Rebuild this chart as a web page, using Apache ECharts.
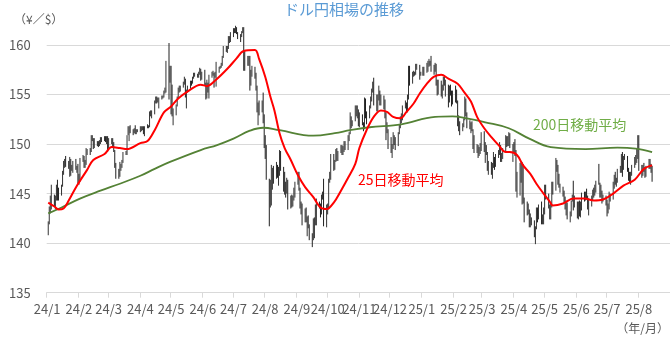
<!DOCTYPE html>
<html><head><meta charset="utf-8">
<script src="https://cdn.jsdelivr.net/npm/echarts@6/dist/echarts.min.js"></script>
<style>html,body{margin:0;padding:0;background:#fff}#c{width:670px;height:339px}</style>
</head><body><div id="c"></div>
<script>
const chartTitle = 'ドル円相場の推移';
const yUnit = '（¥／$）';
const xUnit = '（年/月）';
const ma25Label = '25日移動平均';
const ma200Label = '200日移動平均';
const yMin = 135, yMax = 162, yStep = 5;

// daily [open, close, low, high] per month (weekdays in order)
const jan24 = [[141.0,141.98,140.8,142.2],[142.0,143.3,141.9,143.7],[143.3,144.6,143.0,144.8],[144.6,144.6,143.4,145.9],[144.6,144.2,143.7,144.9],[144.2,144.5,143.4,144.8],[144.5,145.7,144.3,145.9],[145.7,145.3,144.3,146.4],[145.3,144.9,144.3,145.6],[144.9,145.8,144.8,145.9],[145.8,147.2,145.7,147.3],[147.2,148.1,146.9,148.3],[148.1,148.2,147.6,148.5],[148.2,148.1,147.7,148.8],[148.1,148.1,147.5,148.3],[148.1,148.4,146.7,148.7],[148.4,147.5,146.8,148.5],[147.5,147.6,147.3,147.9],[147.6,148.1,147.1,148.3],[148.1,147.5,147.4,148.5],[147.5,147.6,147.1,147.8],[147.6,146.9,146.0,148.0]];
const feb24 = [[146.9,146.4,145.9,147.0],[146.4,148.4,146.2,148.6],[148.4,148.7,148.2,148.9],[148.7,147.9,147.6,148.8],[147.9,148.2,147.6,148.4],[148.2,149.3,147.9,149.6],[149.3,149.3,148.9,149.5],[149.3,149.3,148.9,149.6],[149.3,150.7,149.2,150.9],[150.7,150.6,150.3,150.9],[150.6,149.9,149.5,150.6],[149.9,150.2,149.6,150.6],[150.2,150.1,149.8,150.3],[150.1,150.0,149.7,150.3],[150.0,150.3,149.8,150.4],[150.3,150.5,150.0,150.7],[150.5,150.5,150.2,150.7],[150.5,150.7,150.3,150.8],[150.7,150.5,150.2,150.8],[150.5,150.7,150.0,150.8],[150.7,150.0,149.2,150.8]];
const mar24 = [[150.0,150.1,149.6,150.6],[150.1,150.5,150.0,150.6],[150.5,150.0,149.7,150.6],[150.0,149.4,149.2,150.2],[149.4,148.0,147.6,149.4],[148.0,147.0,146.5,148.1],[147.0,146.9,146.5,147.5],[146.9,147.6,146.7,148.2],[147.6,147.8,147.3,148.0],[147.8,148.3,147.6,148.4],[148.3,149.0,148.1,149.2],[149.0,149.1,148.9,149.3],[149.1,150.9,148.9,150.9],[150.9,151.3,150.9,151.8],[151.3,151.6,150.3,151.8],[151.6,151.4,151.1,151.9],[151.4,151.4,150.9,151.5],[151.4,151.5,151.1,151.6],[151.5,151.3,151.0,151.9],[151.3,151.4,151.0,151.5],[151.4,151.3,151.2,151.5]];
const apr24 = [[151.3,151.6,151.2,151.8],[151.6,151.6,151.3,151.8],[151.6,151.7,151.4,151.8],[151.7,151.3,151.0,151.8],[151.3,151.6,150.8,151.8],[151.6,151.8,151.6,152.0],[151.8,151.8,151.6,151.9],[151.8,153.2,151.7,153.3],[153.2,153.3,152.8,153.4],[153.3,153.3,152.6,153.4],[153.3,154.2,153.0,154.4],[154.2,154.7,154.1,154.8],[154.7,154.4,154.1,154.8],[154.4,154.6,154.2,154.7],[154.6,154.6,153.6,154.7],[154.6,154.8,154.5,154.9],[154.8,154.8,154.6,154.9],[154.8,155.3,154.7,155.4],[155.3,155.6,155.1,155.7],[155.6,158.3,155.2,158.4],[158.3,156.4,154.5,160.2],[156.4,157.8,156.2,157.9]];
const may24 = [[157.8,155.3,153.0,157.9],[155.3,153.0,152.8,156.0],[153.0,153.0,151.9,153.6],[153.0,153.9,152.9,154.0],[153.9,154.7,153.8,154.8],[154.7,155.5,154.6,155.7],[155.5,155.5,155.2,155.9],[155.5,155.8,155.3,155.9],[155.8,156.2,155.7,156.3],[156.2,156.4,156.0,156.8],[156.4,154.9,154.7,156.6],[154.9,155.4,153.6,155.5],[155.4,155.7,155.2,155.9],[155.7,156.3,155.6,156.4],[156.3,156.2,155.9,156.4],[156.2,156.8,156.1,156.8],[156.8,157.0,156.6,157.2],[157.0,157.0,156.8,157.2],[157.0,156.9,156.7,157.1],[156.9,157.2,156.7,157.3],[157.2,157.6,157.0,157.7],[157.6,156.8,156.4,157.6],[156.8,157.3,156.5,157.3]];
const jun24 = [[157.3,156.1,155.9,157.5],[156.1,154.8,154.5,156.2],[154.8,156.1,154.6,156.5],[156.1,155.6,155.2,156.2],[155.6,156.8,154.6,157.0],[156.8,157.0,156.7,157.3],[157.0,157.1,156.9,157.4],[157.1,156.7,155.7,157.2],[156.7,157.1,156.7,157.3],[157.1,157.4,155.8,158.3],[157.4,157.7,157.2,157.8],[157.7,157.8,157.6,157.9],[157.8,158.1,157.7,158.2],[158.1,158.9,157.9,158.9],[158.9,159.8,158.7,159.9],[159.8,159.7,159.3,159.9],[159.7,159.7,159.2,159.9],[159.7,160.8,159.6,160.9],[160.8,160.8,160.2,160.9],[160.8,160.9,160.3,161.3]];
const jul24 = [[160.9,161.5,160.8,161.7],[161.5,161.5,161.2,161.7],[161.5,161.7,161.2,161.95],[161.7,161.2,161.1,161.8],[161.2,160.8,160.6,161.3],[160.8,160.8,160.3,161.1],[160.8,161.3,160.8,161.4],[161.3,161.7,161.2,161.8],[161.7,158.9,157.4,161.8],[158.9,157.9,157.4,159.5],[157.9,158.1,157.9,158.9],[158.1,158.4,157.9,158.9],[158.4,156.2,155.4,158.9],[156.2,157.4,155.9,157.5],[157.4,157.5,156.8,157.9],[157.5,157.0,156.6,157.8],[157.0,155.6,155.4,157.2],[155.6,153.9,153.2,155.9],[153.9,154.0,151.9,154.2],[154.0,153.8,152.9,154.4],[153.8,154.0,153.2,154.4],[154.0,153.0,152.1,155.2],[153.0,149.9,149.6,153.0]];
const aug24 = [[149.9,149.4,148.5,150.9],[149.4,146.5,146.4,149.9],[146.5,144.2,141.7,146.5],[144.2,144.3,143.6,146.4],[144.3,146.8,143.8,147.9],[146.8,147.2,145.4,147.6],[147.2,146.6,146.0,147.8],[146.6,147.2,146.5,148.2],[147.2,146.8,146.6,147.9],[146.8,147.3,145.8,147.7],[147.3,149.3,146.8,149.4],[149.3,147.6,147.3,149.3],[147.6,146.6,145.2,147.7],[146.6,145.3,144.9,147.2],[145.3,145.2,144.6,146.2],[145.2,146.3,145.0,146.6],[146.3,144.4,143.4,146.4],[144.4,144.5,143.5,144.8],[144.5,143.9,143.6,144.9],[143.9,144.6,143.7,144.8],[144.6,145.0,144.3,145.6],[145.0,146.2,144.6,146.2]];
const sep24 = [[146.2,147.0,145.9,147.2],[147.0,145.5,145.3,147.2],[145.5,143.8,143.5,145.6],[143.8,143.4,142.9,144.2],[143.4,142.3,141.8,144.0],[142.3,143.2,142.1,143.5],[143.2,142.4,142.1,143.6],[142.4,142.4,140.7,142.7],[142.4,141.8,141.5,142.8],[141.8,140.9,140.3,141.9],[140.9,140.6,139.6,141.0],[140.6,142.4,140.3,142.5],[142.4,142.3,140.5,142.6],[142.3,142.6,141.8,143.9],[142.6,143.9,141.8,144.5],[143.9,143.6,143.5,144.2],[143.6,143.2,142.6,144.0],[143.2,144.8,142.9,144.9],[144.8,144.8,144.4,145.2],[144.8,142.2,141.7,146.5],[142.2,143.6,141.6,143.9]];
const oct24 = [[143.6,143.6,142.9,144.0],[143.6,146.4,143.4,146.5],[146.4,146.9,146.1,147.2],[146.9,148.7,146.4,149.0],[148.7,148.1,147.3,149.0],[148.1,148.2,147.4,148.4],[148.2,149.3,148.2,149.5],[149.3,148.6,148.3,149.6],[148.6,149.1,148.3,149.3],[149.1,149.8,149.1,149.9],[149.8,149.2,148.9,149.9],[149.2,149.6,148.9,149.8],[149.6,150.1,149.2,150.3],[150.1,149.5,149.4,150.3],[149.5,150.8,149.4,150.9],[150.8,151.1,150.3,151.2],[151.1,152.7,151.0,153.2],[152.7,151.8,151.6,152.8],[151.8,152.3,151.8,152.4],[152.3,153.3,152.3,153.9],[153.3,153.4,152.8,153.9],[153.4,153.4,152.6,153.9],[153.4,152.0,151.8,153.5]];
const nov24 = [[152.0,153.0,151.7,153.2],[153.0,152.2,151.9,153.0],[152.2,151.6,151.3,152.2],[151.6,154.6,151.5,154.7],[154.6,152.9,152.6,154.6],[152.9,152.6,152.0,153.3],[152.6,153.7,152.6,153.9],[153.7,154.6,153.6,154.8],[154.6,155.4,154.3,155.6],[155.4,156.2,155.2,156.3],[156.2,154.3,153.9,156.7],[154.3,154.6,153.3,155.0],[154.6,154.6,153.3,155.0],[154.6,155.4,154.4,155.9],[155.4,154.5,153.9,155.4],[154.5,154.8,153.9,155.0],[154.8,154.2,153.5,154.9],[154.2,153.0,152.6,154.5],[153.0,151.1,150.4,153.2],[151.1,151.5,151.1,152.2],[151.5,149.8,149.5,151.5]];
const dec24 = [[149.8,149.6,149.1,150.7],[149.6,149.6,148.6,150.0],[149.6,150.6,149.5,151.2],[150.6,150.1,149.9,150.9],[150.1,150.0,149.4,150.7],[150.0,151.2,149.8,151.2],[151.2,151.9,151.0,152.0],[151.9,152.4,151.6,152.8],[152.4,152.6,152.1,153.1],[152.6,153.6,152.4,153.9],[153.6,154.1,153.6,154.4],[154.1,153.5,153.2,154.2],[153.5,154.7,153.2,155.0],[154.7,157.4,154.5,157.9],[157.4,156.4,155.9,157.9],[156.4,157.1,156.1,157.3],[157.1,157.2,156.8,157.4],[157.2,157.1,156.9,157.3],[157.1,157.9,157.0,158.1],[157.9,157.9,157.5,158.1],[157.9,156.9,156.5,158.0],[156.9,157.2,156.9,157.3]];
const jan25 = [[157.2,157.4,156.9,157.8],[157.4,157.3,156.9,157.8],[157.3,157.6,157.2,158.2],[157.6,158.0,157.3,158.4],[158.0,158.3,157.8,158.6],[158.3,158.2,157.9,158.4],[158.2,157.7,157.3,158.9],[157.7,157.5,157.0,158.0],[157.5,158.0,157.3,158.2],[158.0,156.5,155.9,158.1],[156.5,155.2,154.9,156.5],[155.2,156.3,155.0,156.5],[156.3,155.6,154.8,156.4],[155.6,155.6,154.6,156.0],[155.6,156.6,155.4,156.8],[156.6,156.0,155.9,156.8],[156.0,156.0,154.8,156.5],[156.0,154.6,153.7,156.0],[154.6,155.5,154.2,155.9],[155.5,155.2,154.9,156.0],[155.2,154.3,153.8,155.4],[154.3,155.2,154.0,155.4]];
const feb25 = [[155.2,154.7,154.2,155.9],[154.7,154.3,154.1,155.5],[154.3,152.6,151.8,154.4],[152.6,152.0,151.3,152.9],[152.0,151.4,150.9,152.3],[151.4,152.0,151.3,152.1],[152.0,152.5,151.7,152.6],[152.5,154.4,152.4,154.8],[154.4,153.0,152.8,154.6],[153.0,152.1,151.6,153.2],[152.1,151.8,151.5,152.4],[151.8,152.0,151.1,152.2],[152.0,151.4,151.3,152.3],[151.4,149.6,149.5,151.5],[149.6,149.2,149.1,150.9],[149.2,149.6,149.1,150.0],[149.6,149.0,148.6,149.9],[149.0,149.1,148.8,149.7],[149.1,149.8,149.0,150.1],[149.8,150.6,149.3,151.2]];
const mar25 = [[150.6,149.5,149.2,151.3],[149.5,149.8,148.1,150.2],[149.8,149.0,148.9,149.9],[149.0,148.0,147.3,149.2],[148.0,148.0,146.9,148.3],[148.0,147.3,146.9,148.2],[147.3,147.8,146.5,148.1],[147.8,148.6,147.6,149.2],[148.6,147.8,147.4,148.7],[147.8,148.6,147.7,149.0],[148.6,149.2,148.6,149.4],[149.2,149.3,148.9,150.2],[149.3,148.7,148.2,149.9],[148.7,148.8,148.2,149.1],[148.8,149.3,148.5,149.6],[149.3,150.7,149.3,150.9],[150.7,149.9,149.7,150.8],[149.9,150.6,149.8,150.8],[150.6,151.0,149.8,151.2],[151.0,149.8,149.6,151.1],[149.8,149.9,148.2,150.0]];
const apr25 = [[149.9,149.6,149.1,150.2],[149.6,149.3,148.8,150.5],[149.3,146.1,145.2,149.4],[146.1,146.9,144.6,147.2],[146.9,147.8,144.8,148.1],[147.8,146.2,146.1,148.3],[146.2,147.8,143.9,148.2],[147.8,144.5,144.0,148.0],[144.5,143.5,142.1,144.6],[143.5,143.1,142.8,144.2],[143.1,143.2,142.9,144.0],[143.2,141.7,141.6,143.4],[141.7,142.5,141.6,143.0],[142.5,142.2,141.8,142.6],[142.2,140.9,140.6,142.3],[140.9,141.5,139.9,141.7],[141.5,143.4,141.4,143.6],[143.4,142.6,142.1,143.6],[142.6,143.6,142.4,143.9],[143.6,142.0,141.9,144.2],[142.0,142.3,141.9,142.9],[142.3,143.1,141.9,143.6]];
const may25 = [[143.1,145.4,142.9,145.9],[145.4,144.9,144.4,145.9],[144.9,143.7,143.5,145.0],[143.7,142.4,142.4,143.9],[142.4,143.9,142.4,144.1],[143.9,145.9,143.6,146.2],[145.9,145.4,144.9,146.2],[145.4,148.4,145.3,148.6],[148.4,147.5,147.2,148.4],[147.5,146.7,145.9,147.9],[146.7,145.7,145.6,147.0],[145.7,145.7,145.1,146.0],[145.7,144.9,144.7,145.7],[144.9,144.5,144.1,145.3],[144.5,143.7,143.4,144.7],[143.7,144.0,142.8,144.3],[144.0,142.6,142.4,144.1],[142.6,142.8,142.1,143.2],[142.8,144.3,142.7,144.3],[144.3,144.8,144.2,144.9],[144.8,144.1,143.3,146.3],[144.1,144.0,143.6,144.8]];
const jun25 = [[144.0,142.7,142.5,144.2],[142.7,143.9,142.4,144.2],[143.9,142.8,142.7,144.3],[142.8,143.5,142.6,144.2],[143.5,144.9,143.3,145.1],[144.9,144.6,144.2,145.2],[144.6,144.8,144.3,145.2],[144.8,144.6,144.4,145.5],[144.6,143.6,143.4,144.8],[143.6,144.1,142.8,144.5],[144.1,144.7,143.7,144.8],[144.7,145.3,144.3,145.4],[145.3,145.1,144.6,145.6],[145.1,145.5,144.8,145.9],[145.5,146.1,145.1,146.3],[146.1,146.1,145.9,148.0],[146.1,144.9,144.6,146.1],[144.9,145.2,144.6,145.9],[145.2,144.4,144.0,145.3],[144.4,144.6,144.2,144.9],[144.6,144.0,143.8,144.8]];
const jul25 = [[144.0,143.4,142.7,144.4],[143.4,143.7,143.0,144.0],[143.7,144.9,143.4,145.2],[144.9,144.5,144.2,145.0],[144.5,146.1,144.4,146.2],[146.1,146.6,145.5,146.9],[146.6,146.3,145.9,147.2],[146.3,146.2,145.7,146.6],[146.2,147.4,146.1,147.5],[147.4,147.7,147.1,147.8],[147.7,148.9,147.1,149.0],[148.9,147.9,146.7,149.2],[147.9,148.6,147.4,148.8],[148.6,148.8,148.4,149.0],[148.8,147.4,147.2,148.8],[147.4,146.6,146.3,147.6],[146.6,146.5,146.1,147.2],[146.5,146.9,145.9,147.2],[146.9,147.7,146.8,147.9],[147.7,148.5,147.6,148.7],[148.5,148.5,147.9,148.9],[148.5,149.5,148.1,149.5],[149.5,150.7,148.5,150.9]];
const aug25 = [[150.7,147.4,147.3,150.9],[147.4,147.1,146.6,147.9],[147.1,147.6,146.8,147.9],[147.6,147.4,147.2,148.1],[147.4,146.9,146.6,147.7],[146.9,147.7,146.7,147.8],[147.7,148.2,147.5,148.5],[148.2,147.8,147.5,148.5],[147.8,147.4,147.1,148.0],[147.4,146.7,146.2,147.8]];

const monthData = [['2024-01',jan24],['2024-02',feb24],['2024-03',mar24],['2024-04',apr24],['2024-05',may24],['2024-06',jun24],['2024-07',jul24],['2024-08',aug24],['2024-09',sep24],['2024-10',oct24],['2024-11',nov24],['2024-12',dec24],['2025-01',jan25],['2025-02',feb25],['2025-03',mar25],['2025-04',apr25],['2025-05',may25],['2025-06',jun25],['2025-07',jul25],['2025-08',aug25]];
const holidays = ['2024-01-01','2025-01-01'];

// 25-day and 200-day moving averages
const ma25 = [['2024-01-02',144.1],['2024-01-08',143.7],['2024-01-12',143.4],['2024-01-17',143.5],['2024-01-22',144.3],['2024-01-30',145.8],['2024-02-09',147.4],['2024-02-15',148.4],['2024-02-26',149.0],['2024-03-04',149.7],['2024-03-12',149.6],['2024-03-19',149.5],['2024-04-01',150.1],['2024-04-08',150.3],['2024-04-15',151.4],['2024-04-24',153.2],['2024-05-01',153.8],['2024-05-08',154.6],['2024-05-17',155.3],['2024-05-30',156.0],['2024-06-05',155.85],['2024-06-14',156.5],['2024-06-25',157.6],['2024-07-04',158.65],['2024-07-11',159.4],['2024-07-22',159.5],['2024-07-26',158.6],['2024-08-01',156.8],['2024-08-06',154.8],['2024-08-10',153.4],['2024-08-15',151.1],['2024-08-20',149.6],['2024-08-26',148.4],['2024-09-02',146.85],['2024-09-09',145.65],['2024-09-17',144.65],['2024-09-24',143.6],['2024-09-30',143.45],['2024-10-07',144.1],['2024-10-14',145.3],['2024-10-21',146.6],['2024-10-28',148.0],['2024-11-01',149.6],['2024-11-08',151.4],['2024-11-15',152.75],['2024-11-22',153.4],['2024-11-28',153.25],['2024-12-04',152.75],['2024-12-11',152.6],['2024-12-17',153.25],['2024-12-24',154.1],['2024-12-30',155.1],['2025-01-06',156.1],['2025-01-13',156.8],['2025-01-20',157.0],['2025-01-27',156.6],['2025-02-05',156.1],['2025-02-11',155.3],['2025-02-18',154.3],['2025-02-24',152.75],['2025-03-03',151.6],['2025-03-10',150.7],['2025-03-17',149.9],['2025-03-24',149.2],['2025-03-28',149.2],['2025-04-04',148.9],['2025-04-10',147.85],['2025-04-17',147.0],['2025-04-23',146.0],['2025-04-30',145.0],['2025-05-06',144.2],['2025-05-09',143.8],['2025-05-19',144.0],['2025-05-29',144.5],['2025-06-09',144.5],['2025-06-18',144.3],['2025-06-27',144.4],['2025-07-07',145.0],['2025-07-17',145.8],['2025-07-28',146.4],['2025-08-06',147.5],['2025-08-14',147.85]];
const ma200 = [['2024-01-02',143.0],['2024-01-15',143.6],['2024-02-02',144.5],['2024-02-22',145.3],['2024-03-12',146.0],['2024-04-01',146.8],['2024-04-15',147.5],['2024-04-30',148.2],['2024-05-30',149.4],['2024-06-15',149.9],['2024-07-01',150.55],['2024-07-17',151.35],['2024-07-30',151.65],['2024-08-15',151.4],['2024-09-17',150.85],['2024-10-08',151.1],['2024-10-23',151.4],['2024-11-11',151.7],['2024-12-12',152.0],['2025-01-14',152.75],['2025-01-31',152.8],['2025-02-14',152.6],['2025-03-04',152.2],['2025-03-27',151.6],['2025-04-16',150.55],['2025-05-07',149.7],['2025-06-10',149.5],['2025-07-11',149.65],['2025-07-29',149.55],['2025-08-14',149.2]];

function pad(n){return n<10?'0'+n:''+n;}
const categories = [];
for (let t = Date.UTC(2024,0,1); t <= Date.UTC(2025,7,31); t += 86400000) {
  const d = new Date(t);
  categories.push(d.getUTCFullYear()+'-'+pad(d.getUTCMonth()+1)+'-'+pad(d.getUTCDate()));
}
const idx = {}; categories.forEach((c,i)=>{idx[c]=i;});
const candles = categories.map(()=>['-','-','-','-']);
monthData.forEach(([ym, rows])=>{
  const y = +ym.slice(0,4), m = +ym.slice(5,7);
  let k = 0;
  for (let day = 1; day <= 31 && k < rows.length; day++) {
    const d = new Date(Date.UTC(y, m-1, day));
    if (d.getUTCMonth() !== m-1) break;
    const key = ym+'-'+pad(day);
    const wd = d.getUTCDay();
    if (wd === 0 || wd === 6 || holidays.indexOf(key) >= 0) continue;
    candles[idx[key]] = rows[k++];
  }
});

const isMonthStart = (i, v) => v.slice(8,10) === '01';
const FONT = '"Noto Sans CJK JP", "Noto Sans", sans-serif';

const chart = echarts.init(document.getElementById('c'), null, {renderer:'canvas'});
chart.setOption({
  animation: false,
  backgroundColor: '#fff',
  grid: {left: 46.7, right: 0, top: 25.2, bottom: 46.3, outerBoundsMode: 'none'},
  xAxis: {
    type: 'category', data: categories, boundaryGap: true,
    axisLine: {lineStyle: {color: '#D9D9D9', width: 1}},
    axisTick: {show: true, interval: isMonthStart, length: 5, lineStyle: {color: '#D9D9D9'}},
    axisLabel: {interval: isMonthStart, color: '#595959', fontSize: 13, fontFamily: FONT, margin: 10,
      formatter: v => v.slice(2,4)+'/'+parseInt(v.slice(5,7),10)},
    splitLine: {show: false}
  },
  yAxis: {
    type: 'value', min: yMin, max: yMax, interval: yStep,
    axisLine: {show: false}, axisTick: {show: false},
    axisLabel: {color: '#595959', fontSize: 13, fontFamily: FONT, margin: 16, showMaxLabel: false,
      formatter: v => (v % 5 === 0 ? String(v) : '')},
    splitLine: {show: true, showMaxLine: false, showMinLine: true, lineStyle: {color: '#D9D9D9', width: 1}}
  },
  series: [
    {type: 'candlestick', data: candles, barWidth: 1.5, z: 2,
      itemStyle: {color: '#3a3a3a', color0: '#202020', borderColor: '#333333', borderColor0: '#202020', borderWidth: 1}},
    {type: 'line', data: ma200, showSymbol: false, smooth: 0.4, z: 3,
      lineStyle: {color: '#548235', width: 1.8}},
    {type: 'line', data: ma25, showSymbol: false, smooth: 0.35, z: 4,
      lineStyle: {color: '#FF0000', width: 2}}
  ],
  graphic: [
    {type: 'text', x: 344, y: 9, style: {text: chartTitle, fill: '#5B9BD5', font: '15px '+FONT, align: 'center', verticalAlign: 'middle'}},
    {type: 'text', x: 14, y: 19, style: {text: yUnit, fill: '#595959', font: '12px '+FONT, align: 'left', verticalAlign: 'middle'}},
    {type: 'text', x: 669, y: 328, style: {text: xUnit, fill: '#595959', font: '12px '+FONT, align: 'right', verticalAlign: 'middle'}},
    {type: 'text', x: 358, y: 180, style: {text: ma25Label, fill: '#FF0000', font: '14px '+FONT, align: 'left', verticalAlign: 'middle'}},
    {type: 'text', x: 533, y: 125, style: {text: ma200Label, fill: '#70AD47', font: '14px '+FONT, align: 'left', verticalAlign: 'middle'}}
  ]
});
</script></body></html>
